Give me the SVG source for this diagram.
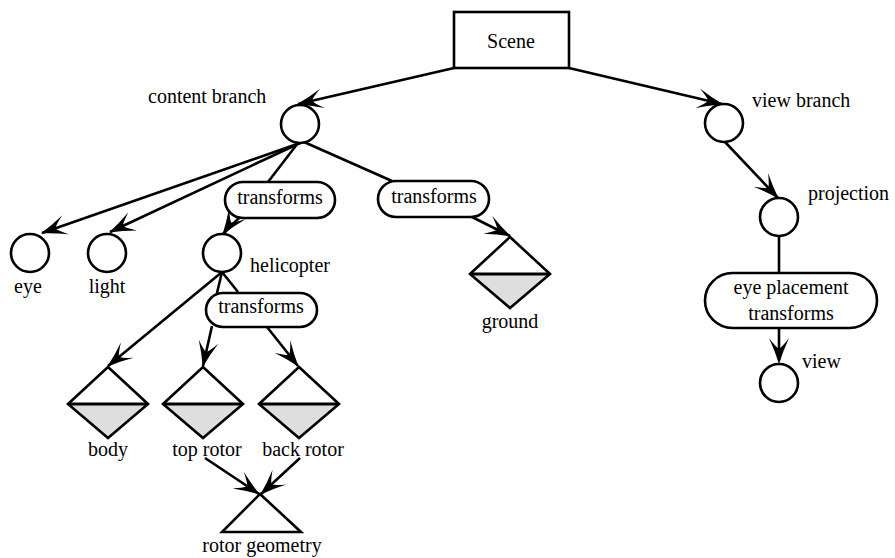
<svg xmlns="http://www.w3.org/2000/svg" width="895" height="558" viewBox="0 0 895 558">
<style>
.s{fill:none;stroke:#000;stroke-width:2.6}
.n{fill:#fff;stroke:#000;stroke-width:2.6}
.g{fill:#dedede;stroke:none}
text{font-family:"Liberation Serif",serif;font-size:20px;fill:#000}
.m{text-anchor:middle}
</style>
<defs>
<path id="ah" d="M1,0 Q-12,-4 -25,-10 Q-17,-4 -14,0 Q-17,4 -25,10 Q-12,4 1,0 Z" fill="#000"/>
<g id="diamond">
<polygon points="0,0 40,37 0,71 -40,37" fill="#fff"/>
<polygon points="-40,37 40,37 0,71" class="g"/>
<polygon points="0,0 40,37 0,71 -40,37" fill="none" stroke="#000" stroke-width="2.6"/>
<line x1="-40" y1="37" x2="40" y2="37" stroke="#000" stroke-width="3"/>
</g>
</defs>
<g id="connectors">
<line class="s" x1="454" y1="68" x2="298" y2="104"/>
<use href="#ah" transform="translate(298,104) rotate(167)"/>
<line class="s" x1="569" y1="68" x2="722" y2="104"/>
<use href="#ah" transform="translate(722,104) rotate(13.2)"/>
<line class="s" x1="300" y1="143" x2="42" y2="233"/>
<use href="#ah" transform="translate(42,233) rotate(160.8)"/>
<line class="s" x1="300" y1="143" x2="110" y2="232"/>
<use href="#ah" transform="translate(110,232) rotate(154.9)"/>
<line class="s" x1="298" y1="143" x2="268" y2="182"/>
<line class="s" x1="304" y1="142" x2="392" y2="181"/>
<line class="s" x1="240" y1="217" x2="223" y2="234"/>
<use href="#ah" transform="translate(223,234) rotate(125)"/>
<line class="s" x1="470" y1="216" x2="510" y2="236"/>
<use href="#ah" transform="translate(510,236) rotate(26.6)"/>
<line class="s" x1="222" y1="272" x2="108" y2="366"/>
<use href="#ah" transform="translate(108,366) rotate(140.5)"/>
<line class="s" x1="222" y1="272" x2="217" y2="293"/>
<line class="s" x1="222" y1="272" x2="238" y2="292"/>
<line class="s" x1="212" y1="326" x2="203" y2="366"/>
<use href="#ah" transform="translate(203,366) rotate(102.7)"/>
<line class="s" x1="267" y1="327" x2="298" y2="366"/>
<use href="#ah" transform="translate(298,366) rotate(51.5)"/>
<line class="s" x1="725" y1="142" x2="778" y2="198"/>
<use href="#ah" transform="translate(778,198) rotate(46.6)"/>
<line class="s" x1="779" y1="236" x2="779" y2="273"/>
<line class="s" x1="779" y1="328" x2="779" y2="360"/>
<use href="#ah" transform="translate(779,363) rotate(90)"/>
<line class="s" x1="205" y1="458" x2="259" y2="494"/>
<use href="#ah" transform="translate(259,494) rotate(33.7)"/>
<line class="s" x1="300" y1="458" x2="261" y2="494"/>
<use href="#ah" transform="translate(261,494) rotate(137.3)"/>
</g>
<g id="scene"><rect class="n" x="454" y="12" width="115" height="56"/><text class="m" x="511" y="48">Scene</text></g>
<g id="content-branch"><circle class="n" cx="300" cy="124" r="19"/><text x="148" y="103">content branch</text></g>
<g id="view-branch"><circle class="n" cx="724" cy="123" r="19"/><text x="752" y="107">view branch</text></g>
<g id="projection"><circle class="n" cx="779" cy="217" r="19"/><text x="808" y="200">projection</text></g>
<g id="eye-placement"><rect class="n" x="705" y="273" width="172" height="55" rx="27.5"/><text class="m" x="791" y="294">eye placement</text><text class="m" x="791" y="320">transforms</text></g>
<g id="view"><circle class="n" cx="779" cy="383" r="19"/><text x="802" y="368">view</text></g>
<g id="eye"><circle class="n" cx="30" cy="253" r="19"/><text class="m" x="28" y="293">eye</text></g>
<g id="light"><circle class="n" cx="107" cy="253" r="19"/><text class="m" x="107" y="293">light</text></g>
<g id="transforms1"><rect class="n" x="225" y="182" width="110" height="36" rx="18"/><text class="m" x="280" y="204">transforms</text></g>
<g id="transforms2"><rect class="n" x="378" y="181" width="111" height="36" rx="18"/><text class="m" x="434" y="203">transforms</text></g>
<g id="helicopter"><circle class="n" cx="222" cy="253" r="19"/><text x="250" y="272">helicopter</text></g>
<g id="transforms3"><rect class="n" x="206" y="293" width="111" height="34" rx="17"/><text class="m" x="261" y="313">transforms</text></g>
<g id="ground"><use href="#diamond" x="510" y="237"/><text class="m" x="510" y="328">ground</text></g>
<g id="body"><use href="#diamond" x="108" y="367"/><text class="m" x="108" y="456">body</text></g>
<g id="top-rotor"><use href="#diamond" x="203" y="367"/><text class="m" x="207" y="456">top rotor</text></g>
<g id="back-rotor"><use href="#diamond" x="299" y="367"/><text class="m" x="303" y="456">back rotor</text></g>
<g id="rotor-geometry"><polygon class="n" points="260,494 301,532 222,532"/><text class="m" x="262" y="552">rotor geometry</text></g>
</svg>
